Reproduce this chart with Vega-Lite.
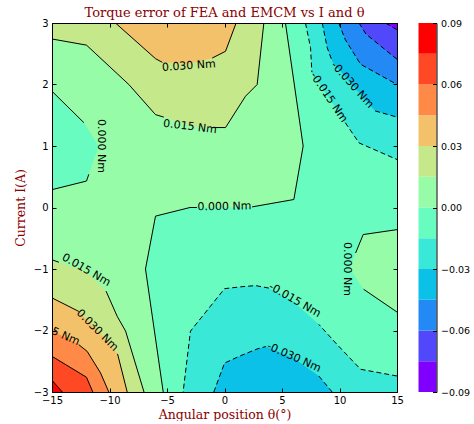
{
"$schema": "https://vega.github.io/schema/vega-lite/v6.json",
"background": "white",
"padding": {"left": 14, "top": 7, "right": 0, "bottom": 0},
"bounds": "flush",
"spacing": 21.5,
"resolve": {"scale": {"y": "independent"}},
"config": {
  "view": {"stroke": null},
  "axis": {"domainColor": "#000", "tickColor": "#000", "labelColor": "#000", "labelFont": "DejaVu Sans", "labelFontSize": 10, "titleFont": "DejaVu Serif", "titleFontSize": 12.5, "titleFontWeight": "normal", "titleColor": "#8b0000", "grid": false, "tickSize": -4, "labelPadding": 8, "domainWidth": 1, "tickWidth": 1, "labelFlush": false, "labelOverlap": false}
},
"datasets": {
"poly": [
{"id":"bg","lev":0,"z":0,"k":1,"t":-15,"i":-3},{"id":"bg","lev":0,"z":0,"k":2,"t":15,"i":-3},{"id":"bg","lev":0,"z":0,"k":3,"t":15,"i":3},{"id":"bg","lev":0,"z":0,"k":4,"t":-15,"i":3},
{"id":"aqm","lev":1,"z":-0.015,"k":1,"t":5.3,"i":3},{"id":"aqm","lev":1,"z":-0.015,"k":2,"t":15,"i":3},{"id":"aqm","lev":1,"z":-0.015,"k":3,"t":15,"i":-3},{"id":"aqm","lev":1,"z":-0.015,"k":4,"t":-5.33,"i":-3},{"id":"aqm","lev":1,"z":-0.015,"k":5,"t":-6.87,"i":-1.0},{"id":"aqm","lev":1,"z":-0.015,"k":6,"t":-6.0,"i":-0.14},{"id":"aqm","lev":1,"z":-0.015,"k":7,"t":-3.0,"i":0.0},{"id":"aqm","lev":1,"z":-0.015,"k":8,"t":0,"i":0.0},{"id":"aqm","lev":1,"z":-0.015,"k":9,"t":2.4,"i":0.01},{"id":"aqm","lev":1,"z":-0.015,"k":10,"t":6.03,"i":0.13},{"id":"aqm","lev":1,"z":-0.015,"k":11,"t":6.84,"i":1.0},
{"id":"aql","lev":1,"z":-0.015,"k":1,"t":-15,"i":1.89},{"id":"aql","lev":1,"z":-0.015,"k":2,"t":-12.23,"i":1.38},{"id":"aql","lev":1,"z":-0.015,"k":3,"t":-10.95,"i":1.0},{"id":"aql","lev":1,"z":-0.015,"k":4,"t":-11.8,"i":0.54},{"id":"aql","lev":1,"z":-0.015,"k":5,"t":-12,"i":0.43},{"id":"aql","lev":1,"z":-0.015,"k":6,"t":-15,"i":0.29},
{"id":"ygt","lev":1,"z":0.015,"k":1,"t":-15,"i":3},{"id":"ygt","lev":1,"z":0.015,"k":2,"t":3.42,"i":3},{"id":"ygt","lev":1,"z":0.015,"k":3,"t":2.84,"i":2.0},{"id":"ygt","lev":1,"z":0.015,"k":4,"t":1.83,"i":1.81},{"id":"ygt","lev":1,"z":0.015,"k":5,"t":0.09,"i":1.3},{"id":"ygt","lev":1,"z":0.015,"k":6,"t":-1.07,"i":1.3},{"id":"ygt","lev":1,"z":0.015,"k":7,"t":-3,"i":1.33},{"id":"ygt","lev":1,"z":0.015,"k":8,"t":-5.28,"i":1.47},{"id":"ygt","lev":1,"z":0.015,"k":9,"t":-6,"i":1.51},{"id":"ygt","lev":1,"z":0.015,"k":10,"t":-8.32,"i":2.0},{"id":"ygt","lev":1,"z":0.015,"k":11,"t":-12,"i":2.64},{"id":"ygt","lev":1,"z":0.015,"k":12,"t":-15,"i":2.74},
{"id":"ygl","lev":1,"z":0.015,"k":1,"t":-15,"i":-0.85},{"id":"ygl","lev":1,"z":0.015,"k":2,"t":-12,"i":-1.05},{"id":"ygl","lev":1,"z":0.015,"k":3,"t":-10.3,"i":-1.36},{"id":"ygl","lev":1,"z":0.015,"k":4,"t":-9.33,"i":-1.77},{"id":"ygl","lev":1,"z":0.015,"k":5,"t":-8.6,"i":-2.01},{"id":"ygl","lev":1,"z":0.015,"k":6,"t":-7,"i":-3},{"id":"ygl","lev":1,"z":0.015,"k":7,"t":-15,"i":-3},
{"id":"isl","lev":2,"z":0,"k":1,"t":15,"i":-0.36},{"id":"isl","lev":2,"z":0,"k":2,"t":12.06,"i":-0.44},{"id":"isl","lev":2,"z":0,"k":3,"t":11.4,"i":-0.74},{"id":"isl","lev":2,"z":0,"k":4,"t":10.9,"i":-1.0},{"id":"isl","lev":2,"z":0,"k":5,"t":12.1,"i":-1.33},{"id":"isl","lev":2,"z":0,"k":6,"t":15,"i":-1.7},
{"id":"tqt","lev":2,"z":-0.03,"k":1,"t":7.04,"i":3},{"id":"tqt","lev":2,"z":-0.03,"k":2,"t":15,"i":3},{"id":"tqt","lev":2,"z":-0.03,"k":3,"t":15,"i":0.78},{"id":"tqt","lev":2,"z":-0.03,"k":4,"t":11.7,"i":1.05},{"id":"tqt","lev":2,"z":-0.03,"k":5,"t":10.5,"i":1.38},{"id":"tqt","lev":2,"z":-0.03,"k":6,"t":9.05,"i":1.79},{"id":"tqt","lev":2,"z":-0.03,"k":7,"t":7.6,"i":2.2},{"id":"tqt","lev":2,"z":-0.03,"k":8,"t":7.48,"i":2.6},
{"id":"tqb","lev":2,"z":-0.03,"k":1,"t":-3.6,"i":-3},{"id":"tqb","lev":2,"z":-0.03,"k":2,"t":15,"i":-3},{"id":"tqb","lev":2,"z":-0.03,"k":3,"t":15,"i":-2.74},{"id":"tqb","lev":2,"z":-0.03,"k":4,"t":11.83,"i":-2.63},{"id":"tqb","lev":2,"z":-0.03,"k":5,"t":9.8,"i":-2.23},{"id":"tqb","lev":2,"z":-0.03,"k":6,"t":8.2,"i":-1.9},{"id":"tqb","lev":2,"z":-0.03,"k":7,"t":6.1,"i":-1.55},{"id":"tqb","lev":2,"z":-0.03,"k":8,"t":3.86,"i":-1.31},{"id":"tqb","lev":2,"z":-0.03,"k":9,"t":2.7,"i":-1.27},{"id":"tqb","lev":2,"z":-0.03,"k":10,"t":1.39,"i":-1.29},{"id":"tqb","lev":2,"z":-0.03,"k":11,"t":0,"i":-1.32},{"id":"tqb","lev":2,"z":-0.03,"k":12,"t":-2.96,"i":-2.01},
{"id":"tnt","lev":2,"z":0.03,"k":1,"t":-9.48,"i":3},{"id":"tnt","lev":2,"z":0.03,"k":2,"t":1.01,"i":3},{"id":"tnt","lev":2,"z":0.03,"k":3,"t":0.09,"i":2.54},{"id":"tnt","lev":2,"z":0.03,"k":4,"t":-1.07,"i":2.43},{"id":"tnt","lev":2,"z":0.03,"k":5,"t":-3,"i":2.34},{"id":"tnt","lev":2,"z":0.03,"k":6,"t":-5.28,"i":2.36},{"id":"tnt","lev":2,"z":0.03,"k":7,"t":-6,"i":2.42},
{"id":"tnl","lev":2,"z":0.03,"k":1,"t":-15,"i":-1.47},{"id":"tnl","lev":2,"z":0.03,"k":2,"t":-12.67,"i":-1.69},{"id":"tnl","lev":2,"z":0.03,"k":3,"t":-11.07,"i":-1.99},{"id":"tnl","lev":2,"z":0.03,"k":4,"t":-9.3,"i":-2.38},{"id":"tnl","lev":2,"z":0.03,"k":5,"t":-8.46,"i":-3},{"id":"tnl","lev":2,"z":0.03,"k":6,"t":-15,"i":-3},
{"id":"cyt","lev":3,"z":-0.045,"k":1,"t":8.5,"i":3},{"id":"cyt","lev":3,"z":-0.045,"k":2,"t":15,"i":3},{"id":"cyt","lev":3,"z":-0.045,"k":3,"t":15,"i":1.47},{"id":"cyt","lev":3,"z":-0.045,"k":4,"t":13.1,"i":1.57},{"id":"cyt","lev":3,"z":-0.045,"k":5,"t":11.1,"i":1.99},{"id":"cyt","lev":3,"z":-0.045,"k":6,"t":9.36,"i":2.38},{"id":"cyt","lev":3,"z":-0.045,"k":7,"t":8.93,"i":2.6},
{"id":"cyb","lev":3,"z":-0.045,"k":1,"t":-0.93,"i":-3},{"id":"cyb","lev":3,"z":-0.045,"k":2,"t":9.36,"i":-3},{"id":"cyb","lev":3,"z":-0.045,"k":3,"t":8.2,"i":-2.74},{"id":"cyb","lev":3,"z":-0.045,"k":4,"t":6.03,"i":-2.45},{"id":"cyb","lev":3,"z":-0.045,"k":5,"t":3.6,"i":-2.26},{"id":"cyb","lev":3,"z":-0.045,"k":6,"t":2.84,"i":-2.3},{"id":"cyb","lev":3,"z":-0.045,"k":7,"t":1.39,"i":-2.41},{"id":"cyb","lev":3,"z":-0.045,"k":8,"t":0,"i":-2.53},
{"id":"org","lev":3,"z":0.045,"k":1,"t":-15,"i":-2.0},{"id":"org","lev":3,"z":0.045,"k":2,"t":-12.67,"i":-2.23},{"id":"org","lev":3,"z":0.045,"k":3,"t":-11.94,"i":-2.34},{"id":"org","lev":3,"z":0.045,"k":4,"t":-10.78,"i":-2.69},{"id":"org","lev":3,"z":0.045,"k":5,"t":-10.06,"i":-3},{"id":"org","lev":3,"z":0.045,"k":6,"t":-15,"i":-3},
{"id":"blt","lev":4,"z":-0.06,"k":1,"t":9.94,"i":3},{"id":"blt","lev":4,"z":-0.06,"k":2,"t":15,"i":3},{"id":"blt","lev":4,"z":-0.06,"k":3,"t":15,"i":2.0},{"id":"blt","lev":4,"z":-0.06,"k":4,"t":12.4,"i":2.27},{"id":"blt","lev":4,"z":-0.06,"k":5,"t":11.83,"i":2.33},{"id":"blt","lev":4,"z":-0.06,"k":6,"t":10.5,"i":2.73},
{"id":"rdo","lev":4,"z":0.06,"k":1,"t":-15,"i":-2.42},{"id":"rdo","lev":4,"z":0.06,"k":2,"t":-12,"i":-2.76},{"id":"rdo","lev":4,"z":0.06,"k":3,"t":-11.45,"i":-3},{"id":"rdo","lev":4,"z":0.06,"k":4,"t":-15,"i":-3},
{"id":"bpt","lev":5,"z":-0.075,"k":1,"t":11.7,"i":3},{"id":"bpt","lev":5,"z":-0.075,"k":2,"t":15,"i":3},{"id":"bpt","lev":5,"z":-0.075,"k":3,"t":15,"i":2.41},{"id":"bpt","lev":5,"z":-0.075,"k":4,"t":12.3,"i":2.82},
{"id":"red","lev":5,"z":0.075,"k":1,"t":-15,"i":-2.81},{"id":"red","lev":5,"z":0.075,"k":2,"t":-14.1,"i":-3},{"id":"red","lev":5,"z":0.075,"k":3,"t":-15,"i":-3},
{"id":"pur","lev":6,"z":-0.09,"k":1,"t":14,"i":3},{"id":"pur","lev":6,"z":-0.09,"k":2,"t":15,"i":3},{"id":"pur","lev":6,"z":-0.09,"k":3,"t":15,"i":2.89}
],
"lines": [
{"id":"s1a","z":0.03,"k":1,"t":-9.48,"i":3},{"id":"s1a","z":0.03,"k":2,"t":-6,"i":2.42},{"id":"s1a","z":0.03,"k":3,"t":-5.4,"i":2.36},
{"id":"s1b","z":0.03,"k":1,"t":-1.07,"i":2.43},{"id":"s1b","z":0.03,"k":2,"t":0.09,"i":2.54},{"id":"s1b","z":0.03,"k":3,"t":1.01,"i":3},
{"id":"s2a","z":0.015,"k":1,"t":-15,"i":2.74},{"id":"s2a","z":0.015,"k":2,"t":-12,"i":2.64},{"id":"s2a","z":0.015,"k":3,"t":-8.32,"i":2.0},{"id":"s2a","z":0.015,"k":4,"t":-6,"i":1.51},{"id":"s2a","z":0.015,"k":5,"t":-5.28,"i":1.47},
{"id":"s2b","z":0.015,"k":1,"t":-1.07,"i":1.3},{"id":"s2b","z":0.015,"k":2,"t":0.09,"i":1.3},{"id":"s2b","z":0.015,"k":3,"t":1.83,"i":1.81},{"id":"s2b","z":0.015,"k":4,"t":2.84,"i":2.0},{"id":"s2b","z":0.015,"k":5,"t":3.42,"i":3},
{"id":"s3a","z":0,"k":1,"t":-15,"i":1.89},{"id":"s3a","z":0,"k":2,"t":-12.23,"i":1.38},
{"id":"s3b","z":0,"k":1,"t":-11.8,"i":0.54},{"id":"s3b","z":0,"k":2,"t":-12,"i":0.43},{"id":"s3b","z":0,"k":3,"t":-15,"i":0.29},
{"id":"s4a","z":0,"k":1,"t":5.3,"i":3},{"id":"s4a","z":0,"k":2,"t":6.84,"i":1.0},{"id":"s4a","z":0,"k":3,"t":6.03,"i":0.13},{"id":"s4a","z":0,"k":4,"t":2.4,"i":0.01},
{"id":"s4b","z":0,"k":1,"t":-2.4,"i":0.0},{"id":"s4b","z":0,"k":2,"t":-3.0,"i":0.0},{"id":"s4b","z":0,"k":3,"t":-6,"i":-0.14},{"id":"s4b","z":0,"k":4,"t":-6.87,"i":-1.0},{"id":"s4b","z":0,"k":5,"t":-5.33,"i":-3},
{"id":"s5a","z":0,"k":1,"t":15,"i":-0.36},{"id":"s5a","z":0,"k":2,"t":12.06,"i":-0.44},{"id":"s5a","z":0,"k":3,"t":11.4,"i":-0.74},
{"id":"s5b","z":0,"k":1,"t":12.1,"i":-1.33},{"id":"s5b","z":0,"k":2,"t":15,"i":-1.7},
{"id":"s6a","z":0.015,"k":1,"t":-15,"i":-0.85},{"id":"s6a","z":0.015,"k":2,"t":-14.4,"i":-0.89},
{"id":"s6b","z":0.015,"k":1,"t":-10.3,"i":-1.36},{"id":"s6b","z":0.015,"k":2,"t":-9.33,"i":-1.77},{"id":"s6b","z":0.015,"k":3,"t":-8.6,"i":-2.01},{"id":"s6b","z":0.015,"k":4,"t":-7,"i":-3},
{"id":"s7a","z":0.03,"k":1,"t":-15,"i":-1.47},{"id":"s7a","z":0.03,"k":2,"t":-12.67,"i":-1.69},
{"id":"s7b","z":0.03,"k":1,"t":-9.3,"i":-2.38},{"id":"s7b","z":0.03,"k":2,"t":-8.46,"i":-3},
{"id":"s8b","z":0.045,"k":1,"t":-12.67,"i":-2.23},{"id":"s8b","z":0.045,"k":2,"t":-11.94,"i":-2.34},{"id":"s8b","z":0.045,"k":3,"t":-10.78,"i":-2.69},{"id":"s8b","z":0.045,"k":4,"t":-10.06,"i":-3},
{"id":"s9","z":0.06,"k":1,"t":-15,"i":-2.42},{"id":"s9","z":0.06,"k":2,"t":-12,"i":-2.76},{"id":"s9","z":0.06,"k":3,"t":-11.45,"i":-3},
{"id":"s10","z":0.075,"k":1,"t":-15,"i":-2.81},{"id":"s10","z":0.075,"k":2,"t":-14.1,"i":-3},
{"id":"d1a","z":-0.015,"k":1,"t":7.04,"i":3},{"id":"d1a","z":-0.015,"k":2,"t":7.48,"i":2.6},{"id":"d1a","z":-0.015,"k":3,"t":7.6,"i":2.2},
{"id":"d1b","z":-0.015,"k":1,"t":10.5,"i":1.38},{"id":"d1b","z":-0.015,"k":2,"t":11.7,"i":1.05},{"id":"d1b","z":-0.015,"k":3,"t":15,"i":0.78},
{"id":"d2a","z":-0.03,"k":1,"t":8.5,"i":3},{"id":"d2a","z":-0.03,"k":2,"t":8.93,"i":2.6},{"id":"d2a","z":-0.03,"k":3,"t":9.36,"i":2.38},
{"id":"d2b","z":-0.03,"k":1,"t":13.1,"i":1.57},{"id":"d2b","z":-0.03,"k":2,"t":15,"i":1.47},
{"id":"d3","z":-0.045,"k":1,"t":9.94,"i":3},{"id":"d3","z":-0.045,"k":2,"t":10.5,"i":2.73},{"id":"d3","z":-0.045,"k":3,"t":11.83,"i":2.33},{"id":"d3","z":-0.045,"k":4,"t":12.4,"i":2.27},{"id":"d3","z":-0.045,"k":5,"t":15,"i":2.0},
{"id":"d4","z":-0.06,"k":1,"t":11.7,"i":3},{"id":"d4","z":-0.06,"k":2,"t":12.3,"i":2.82},{"id":"d4","z":-0.06,"k":3,"t":15,"i":2.41},
{"id":"d5","z":-0.075,"k":1,"t":14,"i":3},{"id":"d5","z":-0.075,"k":2,"t":15,"i":2.89},
{"id":"d6a","z":-0.015,"k":1,"t":15,"i":-2.74},{"id":"d6a","z":-0.015,"k":2,"t":11.83,"i":-2.63},{"id":"d6a","z":-0.015,"k":3,"t":9.8,"i":-2.23},{"id":"d6a","z":-0.015,"k":4,"t":8.2,"i":-1.9},
{"id":"d6b","z":-0.015,"k":1,"t":3.86,"i":-1.31},{"id":"d6b","z":-0.015,"k":2,"t":2.7,"i":-1.27},{"id":"d6b","z":-0.015,"k":3,"t":1.39,"i":-1.29},{"id":"d6b","z":-0.015,"k":4,"t":0,"i":-1.32},{"id":"d6b","z":-0.015,"k":5,"t":-2.96,"i":-2.01},{"id":"d6b","z":-0.015,"k":6,"t":-3.6,"i":-3},
{"id":"d7a","z":-0.03,"k":1,"t":-0.93,"i":-3},{"id":"d7a","z":-0.03,"k":2,"t":0,"i":-2.53},{"id":"d7a","z":-0.03,"k":3,"t":1.39,"i":-2.41},{"id":"d7a","z":-0.03,"k":4,"t":2.84,"i":-2.3},{"id":"d7a","z":-0.03,"k":5,"t":3.6,"i":-2.26},
{"id":"d7b","z":-0.03,"k":1,"t":8.2,"i":-2.74},{"id":"d7b","z":-0.03,"k":2,"t":9.36,"i":-3}
],
"labels": [
{"id":"a","txt":"0.030 Nm","t":-3.1,"i":2.3},
{"id":"b","txt":"0.015 Nm","t":-3.0,"i":1.31},
{"id":"c","txt":"0.000 Nm","t":-10.78,"i":1.0},
{"id":"d","txt":"0.000 Nm","t":0.0,"i":0.01},
{"id":"e","txt":"0.000 Nm","t":10.67,"i":-1.0},
{"id":"f","txt":"-0.015 Nm","t":9.05,"i":1.79},
{"id":"g","txt":"-0.030 Nm","t":11.1,"i":1.99},
{"id":"h","txt":"0.015 Nm","t":-12.03,"i":-1.02},
{"id":"i","txt":"0.030 Nm","t":-11.07,"i":-2.0},
{"id":"j","txt":"0.045 Nm","t":-14.8,"i":-2.02},
{"id":"k","txt":"-0.015 Nm","t":6.1,"i":-1.51},
{"id":"l","txt":"-0.030 Nm","t":6.03,"i":-2.44}
],
"cbar": [
{"lo":-0.09,"hi":-0.075},{"lo":-0.075,"hi":-0.06},{"lo":-0.06,"hi":-0.045},{"lo":-0.045,"hi":-0.03},{"lo":-0.03,"hi":-0.015},{"lo":-0.015,"hi":0},{"lo":0,"hi":0.015},{"lo":0.015,"hi":0.03},{"lo":0.03,"hi":0.045},{"lo":0.045,"hi":0.06},{"lo":0.06,"hi":0.075},{"lo":0.075,"hi":0.09}
]
},
"hconcat": [
{
"width": 345, "height": 369,
"title": {"text": "Torque error of FEA and EMCM vs I and θ", "font": "DejaVu Serif", "fontSize": 13, "fontWeight": "normal", "color": "#8b0000", "offset": -2, "anchor": "middle"},
"resolve": {"axis": {"x": "independent", "y": "independent"}},
"layer": [
{"data": {"name": "poly"}, "transform": [{"filter": "datum.lev == 0"}], "mark": {"type": "line", "strokeWidth": 0, "strokeOpacity": 0, "clip": true},
 "encoding": {
  "x": {"field": "t", "type": "quantitative", "scale": {"domain": [-15, 15], "nice": false, "zero": false}, "axis": {"orient": "bottom", "values": [-15, -10, -5, 0, 5, 10, 15], "format": "d", "title": "Angular position θ(°)", "labelPadding": 7, "titlePadding": 3, "zindex": 1}},
  "y": {"field": "i", "type": "quantitative", "scale": {"domain": [-3, 3], "nice": false, "zero": false}, "axis": {"orient": "left", "values": [-3, -2, -1, 0, 1, 2, 3], "format": "d", "title": "Current I(A)", "titlePadding": 6, "zindex": 1}},
  "order": {"field": "k", "type": "quantitative"}, "detail": {"field": "id", "type": "nominal"},
  "fill": {"field": "z", "type": "ordinal", "scale": {"domain": [-0.09, -0.075, -0.06, -0.045, -0.03, -0.015, 0, 0.015, 0.03, 0.045, 0.06, 0.075], "range": ["#8000ff", "#5148fc", "#238af5", "#0cc1e8", "#3ae8d7", "#68fcc1", "#97fca7", "#c5e88a", "#f3c16a", "#ff8a48", "#ff4824", "#ff0000"]}, "legend": null}}},
{"data": {"name": "poly"}, "transform": [{"filter": "datum.lev == 1"}], "mark": {"type": "line", "strokeWidth": 0, "strokeOpacity": 0, "clip": true},
 "encoding": {"x": {"field": "t", "type": "quantitative", "axis": null}, "y": {"field": "i", "type": "quantitative", "axis": null}, "order": {"field": "k", "type": "quantitative"}, "detail": {"field": "id", "type": "nominal"}, "fill": {"field": "z", "type": "ordinal", "legend": null}}},
{"data": {"name": "poly"}, "transform": [{"filter": "datum.lev == 2"}], "mark": {"type": "line", "strokeWidth": 0, "strokeOpacity": 0, "clip": true},
 "encoding": {"x": {"field": "t", "type": "quantitative", "axis": null}, "y": {"field": "i", "type": "quantitative", "axis": null}, "order": {"field": "k", "type": "quantitative"}, "detail": {"field": "id", "type": "nominal"}, "fill": {"field": "z", "type": "ordinal", "legend": null}}},
{"data": {"name": "poly"}, "transform": [{"filter": "datum.lev == 3"}], "mark": {"type": "line", "strokeWidth": 0, "strokeOpacity": 0, "clip": true},
 "encoding": {"x": {"field": "t", "type": "quantitative", "axis": null}, "y": {"field": "i", "type": "quantitative", "axis": null}, "order": {"field": "k", "type": "quantitative"}, "detail": {"field": "id", "type": "nominal"}, "fill": {"field": "z", "type": "ordinal", "legend": null}}},
{"data": {"name": "poly"}, "transform": [{"filter": "datum.lev == 4"}], "mark": {"type": "line", "strokeWidth": 0, "strokeOpacity": 0, "clip": true},
 "encoding": {"x": {"field": "t", "type": "quantitative", "axis": null}, "y": {"field": "i", "type": "quantitative", "axis": null}, "order": {"field": "k", "type": "quantitative"}, "detail": {"field": "id", "type": "nominal"}, "fill": {"field": "z", "type": "ordinal", "legend": null}}},
{"data": {"name": "poly"}, "transform": [{"filter": "datum.lev == 5"}], "mark": {"type": "line", "strokeWidth": 0, "strokeOpacity": 0, "clip": true},
 "encoding": {"x": {"field": "t", "type": "quantitative", "axis": null}, "y": {"field": "i", "type": "quantitative", "axis": null}, "order": {"field": "k", "type": "quantitative"}, "detail": {"field": "id", "type": "nominal"}, "fill": {"field": "z", "type": "ordinal", "legend": null}}},
{"data": {"name": "poly"}, "transform": [{"filter": "datum.lev == 6"}], "mark": {"type": "line", "strokeWidth": 0, "strokeOpacity": 0, "clip": true},
 "encoding": {
  "x": {"field": "t", "type": "quantitative", "axis": {"orient": "top", "values": [-15, -10, -5, 0, 5, 10, 15], "labels": false, "title": null, "zindex": 1}},
  "y": {"field": "i", "type": "quantitative", "axis": {"orient": "right", "values": [-3, -2, -1, 0, 1, 2, 3], "labels": false, "title": null, "zindex": 1}},
  "order": {"field": "k", "type": "quantitative"}, "detail": {"field": "id", "type": "nominal"}, "fill": {"field": "z", "type": "ordinal", "legend": null}}},
{"data": {"name": "lines"}, "transform": [{"filter": "datum.z >= 0"}], "mark": {"type": "line", "stroke": "#000", "strokeWidth": 1, "clip": true},
 "encoding": {"x": {"field": "t", "type": "quantitative", "axis": null}, "y": {"field": "i", "type": "quantitative", "axis": null}, "order": {"field": "k", "type": "quantitative"}, "detail": {"field": "id", "type": "nominal"}}},
{"data": {"name": "lines"}, "transform": [{"filter": "datum.z < 0"}], "mark": {"type": "line", "stroke": "#000", "strokeWidth": 1, "strokeDash": [5, 3], "clip": true},
 "encoding": {"x": {"field": "t", "type": "quantitative", "axis": null}, "y": {"field": "i", "type": "quantitative", "axis": null}, "order": {"field": "k", "type": "quantitative"}, "detail": {"field": "id", "type": "nominal"}}},
{"data": {"name": "labels"}, "transform": [{"filter": {"field": "id", "oneOf": ["a"]}}], "mark": {"type": "text", "angle": 356, "font": "DejaVu Sans", "fontSize": 11, "color": "#000", "align": "center", "baseline": "middle", "clip": true},
 "encoding": {"x": {"field": "t", "type": "quantitative", "axis": null}, "y": {"field": "i", "type": "quantitative", "axis": null}, "text": {"field": "txt", "type": "nominal"}}},
{"data": {"name": "labels"}, "transform": [{"filter": {"field": "id", "oneOf": ["b"]}}], "mark": {"type": "text", "angle": 7, "font": "DejaVu Sans", "fontSize": 11, "color": "#000", "align": "center", "baseline": "middle", "clip": true},
 "encoding": {"x": {"field": "t", "type": "quantitative", "axis": null}, "y": {"field": "i", "type": "quantitative", "axis": null}, "text": {"field": "txt", "type": "nominal"}}},
{"data": {"name": "labels"}, "transform": [{"filter": {"field": "id", "oneOf": ["c", "e"]}}], "mark": {"type": "text", "angle": 90, "font": "DejaVu Sans", "fontSize": 11, "color": "#000", "align": "center", "baseline": "middle", "clip": true},
 "encoding": {"x": {"field": "t", "type": "quantitative", "axis": null}, "y": {"field": "i", "type": "quantitative", "axis": null}, "text": {"field": "txt", "type": "nominal"}}},
{"data": {"name": "labels"}, "transform": [{"filter": {"field": "id", "oneOf": ["d"]}}], "mark": {"type": "text", "angle": 359, "font": "DejaVu Sans", "fontSize": 11, "color": "#000", "align": "center", "baseline": "middle", "clip": true},
 "encoding": {"x": {"field": "t", "type": "quantitative", "axis": null}, "y": {"field": "i", "type": "quantitative", "axis": null}, "text": {"field": "txt", "type": "nominal"}}},
{"data": {"name": "labels"}, "transform": [{"filter": {"field": "id", "oneOf": ["f"]}}], "mark": {"type": "text", "angle": 56, "font": "DejaVu Sans", "fontSize": 11, "color": "#000", "align": "center", "baseline": "middle", "clip": true},
 "encoding": {"x": {"field": "t", "type": "quantitative", "axis": null}, "y": {"field": "i", "type": "quantitative", "axis": null}, "text": {"field": "txt", "type": "nominal"}}},
{"data": {"name": "labels"}, "transform": [{"filter": {"field": "id", "oneOf": ["g"]}}], "mark": {"type": "text", "angle": 48, "font": "DejaVu Sans", "fontSize": 11, "color": "#000", "align": "center", "baseline": "middle", "clip": true},
 "encoding": {"x": {"field": "t", "type": "quantitative", "axis": null}, "y": {"field": "i", "type": "quantitative", "axis": null}, "text": {"field": "txt", "type": "nominal"}}},
{"data": {"name": "labels"}, "transform": [{"filter": {"field": "id", "oneOf": ["h", "k"]}}], "mark": {"type": "text", "angle": 30, "font": "DejaVu Sans", "fontSize": 11, "color": "#000", "align": "center", "baseline": "middle", "clip": true},
 "encoding": {"x": {"field": "t", "type": "quantitative", "axis": null}, "y": {"field": "i", "type": "quantitative", "axis": null}, "text": {"field": "txt", "type": "nominal"}}},
{"data": {"name": "labels"}, "transform": [{"filter": {"field": "id", "oneOf": ["i"]}}], "mark": {"type": "text", "angle": 45, "font": "DejaVu Sans", "fontSize": 11, "color": "#000", "align": "center", "baseline": "middle", "clip": true},
 "encoding": {"x": {"field": "t", "type": "quantitative", "axis": null}, "y": {"field": "i", "type": "quantitative", "axis": null}, "text": {"field": "txt", "type": "nominal"}}},
{"data": {"name": "labels"}, "transform": [{"filter": {"field": "id", "oneOf": ["j", "l"]}}], "mark": {"type": "text", "angle": 24, "font": "DejaVu Sans", "fontSize": 11, "color": "#000", "align": "center", "baseline": "middle", "clip": true},
 "encoding": {"x": {"field": "t", "type": "quantitative", "axis": null}, "y": {"field": "i", "type": "quantitative", "axis": null}, "text": {"field": "txt", "type": "nominal"}}}
]
},
{
"width": 18, "height": 369,
"layer": [
{"data": {"name": "cbar"}, "mark": {"type": "rect"},
 "encoding": {
  "y": {"field": "lo", "type": "quantitative", "scale": {"domain": [-0.09, 0.09], "nice": false, "zero": false}, "axis": {"orient": "right", "values": [-0.09, -0.06, -0.03, 0, 0.03, 0.06, 0.09], "format": ".2f", "title": null, "labelFontSize": 9.5, "zindex": 1}},
  "y2": {"field": "hi"},
  "fill": {"field": "lo", "type": "ordinal", "scale": {"domain": [-0.09, -0.075, -0.06, -0.045, -0.03, -0.015, 0, 0.015, 0.03, 0.045, 0.06, 0.075], "range": ["#8000ff", "#5148fc", "#238af5", "#0cc1e8", "#3ae8d7", "#68fcc1", "#97fca7", "#c5e88a", "#f3c16a", "#ff8a48", "#ff4824", "#ff0000"]}, "legend": null}}},
{"mark": {"type": "rect", "filled": false, "stroke": "#000", "strokeWidth": 1},
 "encoding": {"y": {"datum": -0.09, "type": "quantitative"}, "y2": {"datum": 0.09}}}
]
}
]
}
